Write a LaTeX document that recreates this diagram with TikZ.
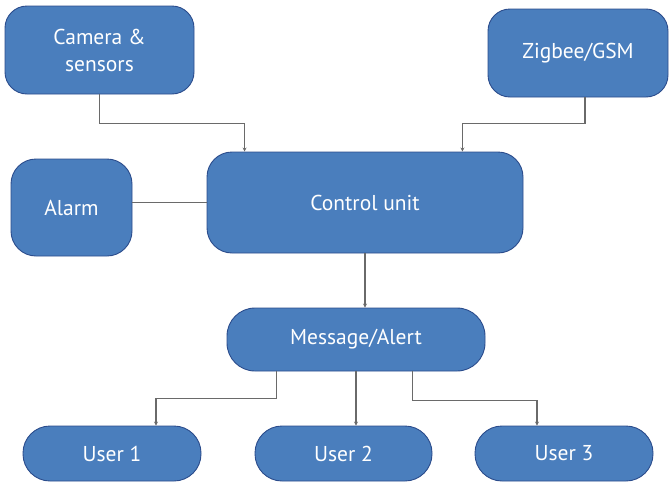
\documentclass[tikz,border=0pt]{standalone}
\usepackage{fontspec}
\setmainfont{PT Sans}
\usetikzlibrary{arrows.meta}
\definecolor{boxblue}{HTML}{4A7EBD}
\definecolor{boxedge}{HTML}{2B4C8C}
\definecolor{wire}{HTML}{6A6A6A}
\begin{document}
\begin{tikzpicture}[x=1pt,y=-1pt,
    blk/.style={draw=boxedge,line width=0.9pt,fill=boxblue,text=white,
      font=\fontsize{21.5}{27}\selectfont,align=center,inner sep=0pt},
    conn/.style={draw=wire,line width=1.6pt,-{Stealth[length=4pt,width=4pt]}}]
    \useasboundingbox (0,0) rectangle (670,482);
    % blocks
    \node[blk,rounded corners=22,minimum width=189,minimum height=88] (cam) at (99.5,50) {Camera \&\\sensors};
    \node[blk,rounded corners=22,minimum width=180,minimum height=88] (zig) at (578,53) {Zigbee/GSM};
    \node[blk,rounded corners=25,minimum width=121,minimum height=97] (alarm) at (71.5,207.5) {Alarm};
    \node[blk,rounded corners=25,minimum width=316,minimum height=101] (ctrl) at (365,202.5) {Control unit};
    \node[blk,rounded corners=28,minimum width=258,minimum height=63] (msg) at (356,339.5) {Message/Alert};
    \node[blk,rounded corners=27,minimum width=178,minimum height=55] (u1) at (112,453.5) {User 1};
    \node[blk,rounded corners=27,minimum width=177,minimum height=55] (u2) at (343.5,453.5) {User 2};
    \node[blk,rounded corners=27,minimum width=178,minimum height=55] (u3) at (564,453.5) {User 3};
    % inputs to the control unit
    \draw[conn] (cam.south) -- ++(0,29) -| ([xshift=38]ctrl.north west);
    \draw[conn] ([xshift=7]zig.south) -- ++(0,26) -| ([xshift=-61]ctrl.north east);
    \draw[draw=wire,line width=1.6pt] (ctrl.west -| alarm.east) -- (ctrl.west);
    \draw[conn] (ctrl.south) -- (ctrl.south |- msg.north);
    % outputs to the users
    \draw[conn] ([xshift=50]msg.south west) -- ++(0,27) -| ([xshift=44]u1.north);
    \draw[conn] (msg.south) -- (msg.south |- u2.north);
    \draw[conn] ([xshift=-73]msg.south east) -- ++(0,29) -| ([xshift=-27]u3.north);
\end{tikzpicture}
\end{document}
